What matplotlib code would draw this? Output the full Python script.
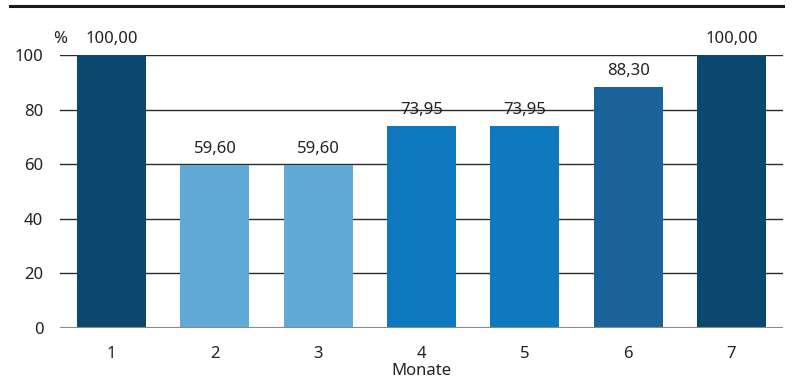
import matplotlib
matplotlib.use("Agg")
import matplotlib.pyplot as plt

plt.rcParams['font.family'] = ['Noto Sans', 'DejaVu Sans']

months = [1, 2, 3, 4, 5, 6, 7]
values = [100.00, 59.60, 59.60, 73.95, 73.95, 88.30, 100.00]
colors = ['#0b4870', '#61a9d6', '#61a9d6', '#0e79bf', '#0e79bf', '#1a6399', '#0b4870']
yticks = [0, 20, 40, 60, 80, 100]

FS = 12
TXT = '#222222'

fig = plt.figure(figsize=(7.93, 3.78), dpi=100)
ax = fig.add_axes([60 / 793, 1 - 328 / 378, 723 / 793, 273 / 378])

for y in yticks[1:]:
    ax.axhline(y, color='#2b2b2b', lw=1.0, zorder=1)
ax.axhline(0, color='#8a8a8a', lw=1.5, zorder=3)

ax.bar(months, values, width=0.668, color=colors, zorder=2)

for x, v in zip(months, values):
    ax.text(x, v + 3.0, f"{v:.2f}".replace('.', ','), ha='center', va='bottom',
            fontsize=FS, color=TXT)

ax.set_xlim(0.5, 7.5)
ax.set_ylim(0, 100)
ax.set_yticks(yticks)
ax.set_xticks(months)
ax.tick_params(axis='both', length=0, labelsize=FS, colors=TXT)
ax.tick_params(axis='y', pad=12)
ax.tick_params(axis='x', pad=13)
for s in ax.spines.values():
    s.set_visible(False)

ax.text(0.0, 103, '%', transform=ax.get_yaxis_transform(), ha='center', va='bottom',
        fontsize=FS, color=TXT)
ax.set_xlabel('Monate', fontsize=FS, color=TXT, labelpad=1)

# rule across the top of the figure
fig.add_artist(plt.Line2D([10 / 793, 783 / 793], [1 - 6 / 378, 1 - 6 / 378],
                          color='#1a1a1a', lw=2.2))

fig.savefig('out.png', dpi=100)
